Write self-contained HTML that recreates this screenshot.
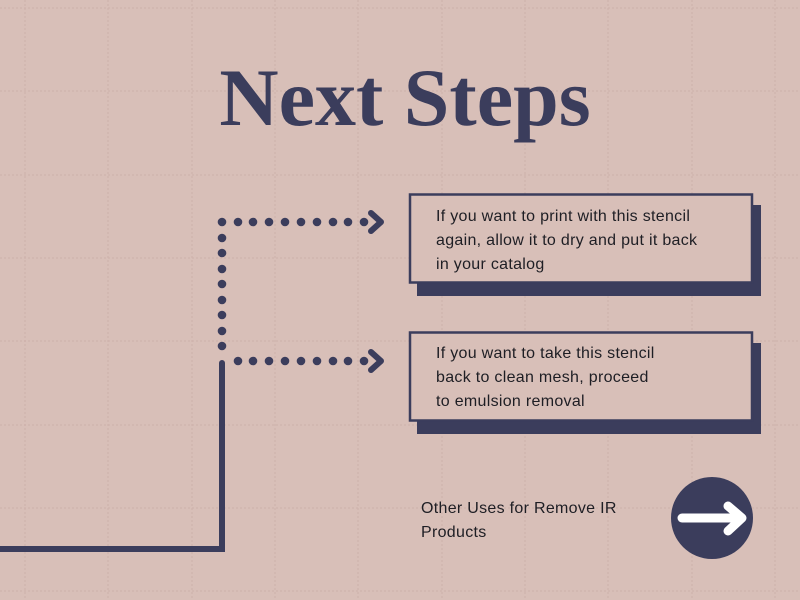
<!DOCTYPE html>
<html><head><meta charset="utf-8"><style>
html,body{margin:0;padding:0;background:#d8bfb8;}
svg{display:block}
</style></head><body>
<svg width="800" height="600" xmlns="http://www.w3.org/2000/svg">
<rect width="800" height="600" fill="#d8bfb8"/>
<g stroke="#cdb0aa" stroke-width="1" stroke-dasharray="2,2">
<line x1="25" y1="0" x2="25" y2="600"/><line x1="108" y1="0" x2="108" y2="600"/><line x1="192" y1="0" x2="192" y2="600"/><line x1="275" y1="0" x2="275" y2="600"/><line x1="358" y1="0" x2="358" y2="600"/><line x1="442" y1="0" x2="442" y2="600"/><line x1="525" y1="0" x2="525" y2="600"/><line x1="608" y1="0" x2="608" y2="600"/><line x1="692" y1="0" x2="692" y2="600"/><line x1="775" y1="0" x2="775" y2="600"/>
<line x1="0" y1="8" x2="800" y2="8"/><line x1="0" y1="91" x2="800" y2="91"/><line x1="0" y1="175" x2="800" y2="175"/><line x1="0" y1="258" x2="800" y2="258"/><line x1="0" y1="341" x2="800" y2="341"/><line x1="0" y1="425" x2="800" y2="425"/><line x1="0" y1="508" x2="800" y2="508"/><line x1="0" y1="591" x2="800" y2="591"/>
</g>
<text x="405" y="125" text-anchor="middle" font-family="Liberation Serif, serif" font-weight="bold" font-size="82" fill="#3b3d5c">Next Steps</text>
<g fill="#3b3d5c">
<circle cx="222" cy="222" r="4.3"/><circle cx="238" cy="222" r="4.3"/><circle cx="253" cy="222" r="4.3"/><circle cx="269" cy="222" r="4.3"/><circle cx="285" cy="222" r="4.3"/><circle cx="301" cy="222" r="4.3"/><circle cx="317" cy="222" r="4.3"/><circle cx="333" cy="222" r="4.3"/><circle cx="348" cy="222" r="4.3"/><circle cx="364" cy="222" r="4.3"/>
<circle cx="222" cy="238" r="4.3"/><circle cx="222" cy="253" r="4.3"/><circle cx="222" cy="269" r="4.3"/><circle cx="222" cy="284" r="4.3"/><circle cx="222" cy="300" r="4.3"/><circle cx="222" cy="315" r="4.3"/><circle cx="222" cy="331" r="4.3"/><circle cx="222" cy="346" r="4.3"/>
<circle cx="238" cy="361" r="4.3"/><circle cx="253" cy="361" r="4.3"/><circle cx="269" cy="361" r="4.3"/><circle cx="285" cy="361" r="4.3"/><circle cx="301" cy="361" r="4.3"/><circle cx="317" cy="361" r="4.3"/><circle cx="333" cy="361" r="4.3"/><circle cx="348" cy="361" r="4.3"/><circle cx="364" cy="361" r="4.3"/>
</g>
<g fill="none" stroke="#3b3d5c" stroke-width="6" stroke-linecap="round" stroke-linejoin="round">
<polyline points="371,213 381,222 371,231"/>
<polyline points="371,352 381,361 371,370"/>
<line x1="222" y1="363" x2="222" y2="372"/>
<polyline stroke-linecap="butt" stroke-linejoin="miter" points="222,366 222,549 0,549"/>
</g>
<rect x="417" y="205" width="344" height="91" fill="#3b3d5c"/>
<rect x="410" y="194.5" width="342" height="88" fill="#d8bfb8" stroke="#3b3d5c" stroke-width="2.5"/>
<rect x="417" y="343" width="344" height="91" fill="#3b3d5c"/>
<rect x="410" y="332.5" width="342" height="88" fill="#d8bfb8" stroke="#3b3d5c" stroke-width="2.5"/>
<g font-family="Liberation Sans, sans-serif" font-size="16" letter-spacing="0.3" fill="#1e1e24">
<text x="436" y="221">If you want to print with this stencil</text>
<text x="436" y="245">again, allow it to dry and put it back</text>
<text x="436" y="269">in your catalog</text>
<text x="436" y="358">If you want to take this stencil</text>
<text x="436" y="382">back to clean mesh, proceed</text>
<text x="436" y="406">to emulsion removal</text>
<text x="421" y="513">Other Uses for Remove IR</text>
<text x="421" y="537">Products</text>
</g>
<circle cx="712" cy="518" r="41" fill="#3b3d5c"/>
<g fill="none" stroke="#ffffff" stroke-width="9" stroke-linecap="round" stroke-linejoin="round">
<line x1="682" y1="518" x2="738" y2="518"/>
<polyline points="728,506 742,518 728,531"/>
</g>
</svg>
</body></html>
